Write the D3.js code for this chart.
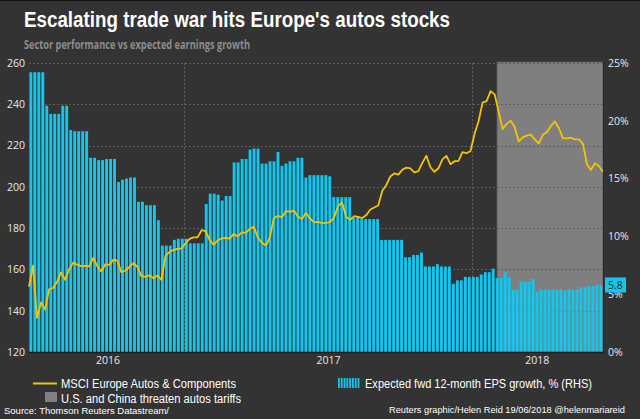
<!DOCTYPE html>
<html><head><meta charset="utf-8">
<script src="https://cdn.jsdelivr.net/npm/d3@7"></script>
<style>body{margin:0;background:#333333;} svg{display:block}</style>
</head><body><svg id="c" width="640" height="419"></svg>
<script>
// Expected fwd 12-month EPS growth, % (RHS) - weekly
const epsGrowth = [
 24.2,24.2,24.2,24.2,21.3,20.6,20.6,20.6,21.3,21.3,
 19.2,19.1,19.1,19.1,19.1,16.8,16.8,16.6,16.6,16.7,
 16.7,16.7,14.7,14.9,15.0,15.1,15.1,13.0,13.0,12.7,
 12.7,12.7,11.4,9.2,9.2,9.2,9.7,9.8,9.8,9.8,
 9.4,9.4,9.4,9.4,12.8,13.7,13.7,13.6,13.1,13.5,
 13.5,16.4,16.4,16.7,16.7,17.5,17.6,17.6,16.3,16.3,
 16.5,16.5,17.3,16.1,16.3,16.5,16.5,16.8,16.8,15.1,
 15.3,15.3,15.3,15.3,15.3,15.2,13.4,13.4,13.4,13.4,
 13.4,11.6,11.6,11.5,11.5,11.5,11.5,11.5,9.7,9.7,
 9.7,9.7,9.7,9.7,8.2,8.2,8.4,8.4,8.6,7.4,
 7.4,7.4,7.6,7.4,7.4,7.4,5.9,6.2,6.2,6.5,
 6.5,6.5,6.5,6.7,6.9,6.9,7.2,6.4,6.4,6.9,
 6.5,5.4,5.4,6.1,6.1,6.1,6.3,5.2,5.4,5.4,
 5.4,5.4,5.4,5.4,5.3,5.4,5.4,5.4,5.6,5.6,
 5.7,5.7,5.8,5.8
];
// MSCI Europe Autos & Components (LHS)
const autosIndex = [
 151.6,161.8,136.5,144.0,140.5,150.4,151.0,154.0,158.6,155.0,
 160.0,163.3,162.3,161.6,161.7,161.5,165.6,161.7,159.0,162.5,
 162.2,164.6,164.3,158.7,159.5,161.2,163.0,161.3,156.8,156.4,
 157.2,155.7,157.0,155.0,166.5,168.5,169.4,170.0,170.2,172.6,
 174.8,175.5,175.5,179.0,178.5,174.3,172.0,174.0,175.0,175.3,
 174.9,177.2,176.0,177.9,177.7,179.7,180.6,175.5,173.0,171.6,
 175.5,184.9,185.9,185.3,188.2,188.0,188.5,185.5,184.4,187.4,
 184.7,182.8,183.0,182.4,182.6,182.9,185.2,190.7,192.4,185.5,
 184.0,185.8,185.4,184.9,186.2,188.9,190.0,191.0,198.0,200.8,
 205.0,206.5,205.9,208.3,209.3,209.0,207.0,207.6,211.6,215.1,
 209.5,207.3,209.0,213.3,215.0,211.0,212.4,212.6,216.8,216.3,
 217.4,225.7,231.8,240.8,241.5,246.4,244.8,236.5,228.0,230.5,
 232.0,229.0,222.0,224.0,224.8,225.3,223.0,221.0,225.2,226.5,
 229.4,231.7,228.5,223.6,223.5,223.8,223.0,223.0,220.8,211.0,
 208.2,211.5,210.0,207.3
];
const leftTicks = [120,140,160,180,200,220,240,260];
const rightTicks = [0,5,10,15,20,25];
const yearLabels = ["2016","2017","2018"];
const yearLabelAt = [19.7, 75.0, 127.4];   // in weeks from start
const vGridAt = [38.9, 111.1];             // weeks
const tariffPeriod = [117.4, 144];         // weeks
const lastValueLabel = "5.8";

const svg = d3.select("#c");
const W = 640, H = 419;
const plot = {l:29, r:603, t:63, b:352};

svg.append("rect").attr("width",W).attr("height",H).attr("fill","#333333");
svg.append("line").attr("x1",0).attr("x2",W).attr("y1",0.5).attr("y2",0.5).attr("stroke","#111");

const N = epsGrowth.length;
const x = d3.scaleLinear().domain([0, N]).range([plot.l, plot.r]);
const xLine = d3.scaleLinear().domain([0, autosIndex.length-1]).range([plot.l, plot.r]);
const yL = d3.scaleLinear().domain([120,260]).range([plot.b, plot.t]);
const yR = d3.scaleLinear().domain([0,25]).range([plot.b, plot.t]);

// title
svg.append("text").attr("x",24).attr("y",27)
  .attr("font-family","'Liberation Sans Narrow','Arial Narrow','Liberation Sans',Arial,sans-serif")
  .attr("font-weight","bold").attr("font-size",22).attr("fill","#ffffff")
  .attr("textLength",426).attr("lengthAdjust","spacingAndGlyphs")
  .text("Escalating trade war hits Europe's autos stocks");
svg.append("text").attr("x",24).attr("y",49)
  .attr("font-family","'Open Sans','Noto Sans',sans-serif")
  .attr("font-weight","bold").attr("font-size",12.5).attr("fill","#8c8c8c")
  .attr("textLength",226).attr("lengthAdjust","spacingAndGlyphs")
  .text("Sector performance vs expected earnings growth");

// shaded period
svg.append("rect")
  .attr("x", x(tariffPeriod[0])).attr("y", plot.t-1)
  .attr("width", x(tariffPeriod[1]) - x(tariffPeriod[0])).attr("height", plot.b - plot.t + 1)
  .attr("fill","#7f7f7f").attr("stroke","#555").attr("stroke-width",0.8);

// gridlines
const grid = svg.append("g");
grid.selectAll("line.h").data(leftTicks.filter(d=>d>120)).join("line")
  .attr("x1",plot.l).attr("x2",plot.r).attr("y1",d=>Math.round(yL(d))+0.5).attr("y2",d=>Math.round(yL(d))+0.5)
  .attr("stroke","#5e5e5e").attr("stroke-dasharray","2,2").attr("stroke-width",1);
grid.selectAll("line.v").data(vGridAt).join("line")
  .attr("x1",d=>Math.round(x(d))+0.5).attr("x2",d=>Math.round(x(d))+0.5).attr("y1",plot.t).attr("y2",plot.b)
  .attr("stroke","#5e5e5e").attr("stroke-dasharray","2,2").attr("stroke-width",1);

// bars
const bw = x(1) - x(0);
svg.append("g").selectAll("rect").data(epsGrowth).join("rect")
  .attr("x",(d,i)=>x(i)+0.4).attr("width",bw-1.1)
  .attr("y",d=>yR(d)).attr("height",d=>plot.b - yR(d))
  .attr("fill","#12c6ee");

// line
const line = d3.line().x((d,i)=>xLine(i)).y(d=>yL(d));
svg.append("path").datum(autosIndex).attr("d",line)
  .attr("fill","none").attr("stroke","#f5c400").attr("stroke-width",1.8).attr("stroke-linejoin","round");

// axes frame
svg.append("line").attr("x1",plot.l).attr("x2",plot.r+1).attr("y1",plot.b+0.5).attr("y2",plot.b+0.5).attr("stroke","#1c1c1c").attr("stroke-width",1.5);
svg.append("line").attr("x1",plot.r+0.5).attr("x2",plot.r+0.5).attr("y1",plot.t-1).attr("y2",plot.b).attr("stroke","#2a2a2a").attr("stroke-width",1);

const tickFont = "'Open Sans','Noto Sans',sans-serif";
const axL = svg.append("g").attr("transform",`translate(${plot.l},0)`)
  .call(d3.axisLeft(yL).tickValues(leftTicks).tickSize(0).tickPadding(4));
const axR = svg.append("g").attr("transform",`translate(${plot.r},0)`)
  .call(d3.axisRight(yR).tickValues(rightTicks).tickFormat(d=>d+"%").tickSize(0).tickPadding(5));
const axB = svg.append("g").attr("transform",`translate(0,${plot.b})`)
  .call(d3.axisBottom(x).tickValues(yearLabelAt).tickFormat((d,i)=>yearLabels[i]).tickSize(0).tickPadding(5));
[axL,axR,axB].forEach(a=>{
  a.select(".domain").remove();
  a.selectAll("text").attr("font-family",tickFont).attr("font-size",10.5).attr("fill","#e8e8e8");
});

// last value label
const lv = +lastValueLabel;
const lg = svg.append("g").attr("transform",`translate(${plot.r+2},${yR(lv)})`);
lg.append("rect").attr("x",0).attr("y",-7.5).attr("width",21).attr("height",15).attr("fill","#12c6ee");
lg.append("text").attr("x",10.5).attr("y",4).attr("text-anchor","middle")
  .attr("font-family",tickFont).attr("font-size",10.5).attr("fill","#1a1a1a").text(lastValueLabel);

// legend
const legFont = "'Liberation Sans',Arial,sans-serif";
svg.append("line").attr("x1",33).attr("x2",57).attr("y1",383.5).attr("y2",383.5).attr("stroke","#f5c400").attr("stroke-width",2);
svg.append("text").attr("x",61).attr("y",388).attr("font-family",legFont).attr("font-size",12.5).attr("fill","#ffffff")
  .attr("textLength",175).attr("lengthAdjust","spacingAndGlyphs").text("MSCI Europe Autos & Components");
svg.append("rect").attr("x",45).attr("y",392).attr("width",12).attr("height",10).attr("fill","#808080");
svg.append("text").attr("x",61).attr("y",402.5).attr("font-family",legFont).attr("font-size",12.5).attr("fill","#ffffff")
  .attr("textLength",180).attr("lengthAdjust","spacingAndGlyphs").text("U.S. and China threaten autos tariffs");
const iconBars = d3.range(8);
svg.append("g").selectAll("rect").data(iconBars).join("rect")
  .attr("x",d=>338+d*2.8).attr("y",378).attr("width",1.8).attr("height",10).attr("fill","#12c6ee");
svg.append("text").attr("x",365).attr("y",388).attr("font-family",legFont).attr("font-size",12.5).attr("fill","#ffffff")
  .attr("textLength",227).attr("lengthAdjust","spacingAndGlyphs").text("Expected fwd 12-month EPS growth, % (RHS)");

// footer
svg.append("text").attr("x",4).attr("y",414).attr("font-family",legFont).attr("font-size",9.6).attr("fill","#ffffff")
  .attr("textLength",165).attr("lengthAdjust","spacingAndGlyphs").text("Source: Thomson Reuters Datastream/");
svg.append("text").attr("x",389).attr("y",413).attr("font-family",legFont).attr("font-size",9.2).attr("fill","#ffffff")
  .attr("textLength",236).attr("lengthAdjust","spacingAndGlyphs").text("Reuters graphic/Helen Reid 19/06/2018 @helenmariareid");
</script></body></html>
